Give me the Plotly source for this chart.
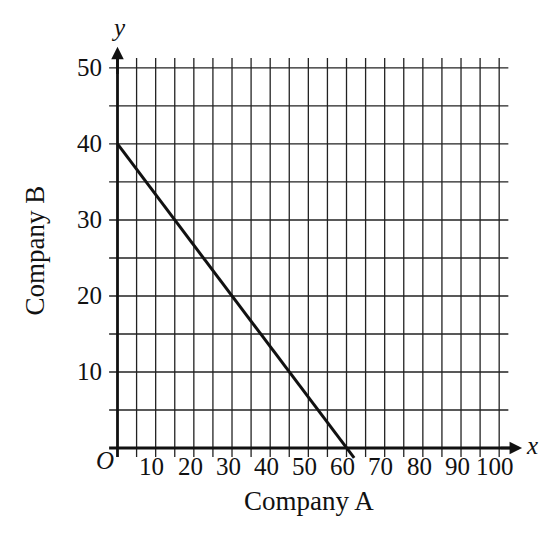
import plotly.graph_objects as go

# данные линии (Company A -> Company B)
line_x = [0, 62]
line_y = [40, -1.3]

x_ticks = [10, 20, 30, 40, 50, 60, 70, 80, 90, 100]
y_ticks = [10, 20, 30, 40, 50]
x_grid = list(range(5, 101, 5))
y_grid = list(range(5, 51, 5))

serif = "Liberation Serif, DejaVu Serif, serif"
ink = "#111111"

fig = go.Figure()

# сетка
for gx in x_grid:
    fig.add_shape(type="line", x0=gx, x1=gx, y0=-1.2, y1=51.3,
                  line=dict(color="#222222", width=1.3), layer="below")
for gy in y_grid:
    fig.add_shape(type="line", x0=-2.2, x1=102.4, y0=gy, y1=gy,
                  line=dict(color="#222222", width=1.3), layer="below")

# оси со стрелками
fig.add_shape(type="line", x0=-2.2, x1=104, y0=0, y1=0, line=dict(color=ink, width=2.8))
fig.add_shape(type="line", x0=0, x1=0, y0=-1.2, y1=51.5, line=dict(color=ink, width=2.8))
fig.add_annotation(x=106, y=0, ax=100, ay=0, axref="x", ayref="y", xref="x", yref="y",
                   text="", showarrow=True, arrowhead=2, arrowsize=1, arrowwidth=2.5,
                   arrowcolor=ink)
fig.add_annotation(x=0, y=52.8, ax=0, ay=49, axref="x", ayref="y", xref="x", yref="y",
                   text="", showarrow=True, arrowhead=2, arrowsize=1, arrowwidth=2.5,
                   arrowcolor=ink)

fig.add_trace(go.Scatter(x=line_x, y=line_y, mode="lines",
                         line=dict(color=ink, width=3), hoverinfo="skip"))

# подписи делений
for t in x_ticks:
    fig.add_annotation(x=t - 1.0, y=-2.45, text=str(t), showarrow=False,
                       font=dict(family=serif, size=25, color=ink), yanchor="middle")
for t in y_ticks:
    fig.add_annotation(x=-3.5, y=t, text=str(t), showarrow=False, xanchor="right",
                       font=dict(family=serif, size=25, color=ink), yanchor="middle")

fig.add_annotation(x=-3.3, y=-1.6, text="<i>O</i>", showarrow=False,
                   font=dict(family=serif, size=25, color=ink))
fig.add_annotation(x=108.6, y=0.3, text="<i>x</i>", showarrow=False,
                   font=dict(family=serif, size=25, color=ink))
fig.add_annotation(x=0.3, y=55.3, text="<i>y</i>", showarrow=False,
                   font=dict(family=serif, size=25, color=ink))

fig.add_annotation(x=50.2, y=-7.0, text="Company A", showarrow=False,
                   font=dict(family=serif, size=27, color=ink))
fig.add_annotation(x=-21.6, y=26.0, text="Company B", showarrow=False, textangle=-90,
                   font=dict(family=serif, size=27, color=ink))

fig.update_layout(
    width=545, height=528,
    margin=dict(l=0, r=0, t=0, b=0),
    paper_bgcolor="white", plot_bgcolor="white",
    showlegend=False,
    xaxis=dict(range=[-28.69, 114.1], visible=False, fixedrange=True),
    yaxis=dict(range=[-11.58, 57.89], visible=False, fixedrange=True),
)

fig.write_html("out.html")
